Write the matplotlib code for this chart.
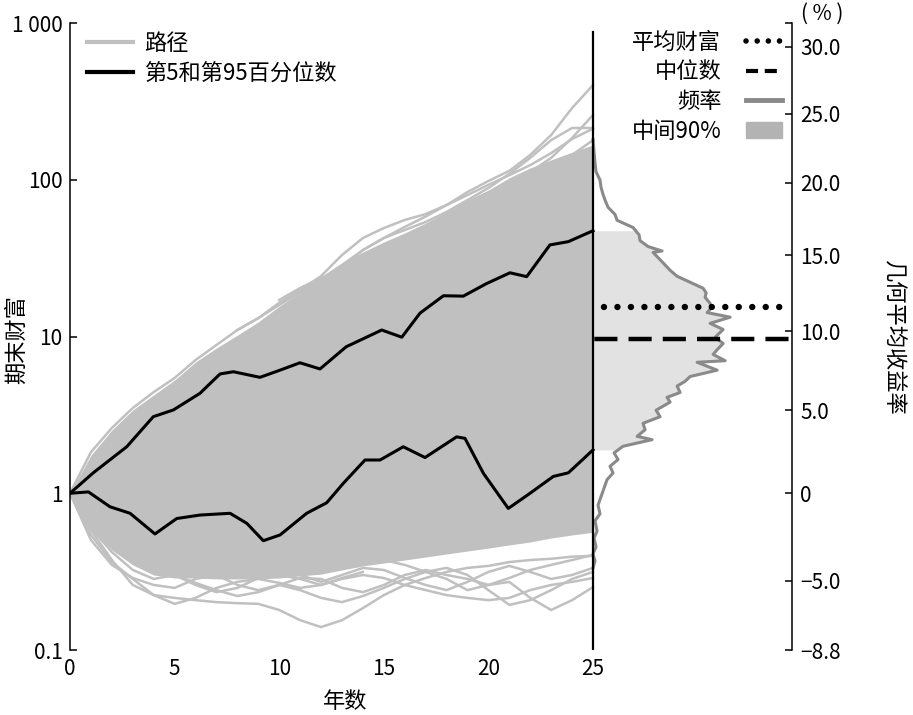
import numpy as np
import matplotlib
matplotlib.use("Agg")
import matplotlib.pyplot as plt
from matplotlib.lines import Line2D
from matplotlib.patches import Patch
from matplotlib.ticker import NullLocator

plt.rcParams['font.family'] = ['Noto Sans CJK SC', 'DejaVu Sans']
plt.rcParams['font.size'] = 15

years = np.arange(26)

# 路径主体(密集区)的上下边界, 期末财富
core_upper = [1, 1.75, 2.53, 3.40, 4.24, 5.28, 6.88, 8.45, 10.2, 12.4, 15.6, 19.2, 23.6,
              29.0, 34.6, 40.1, 45.8, 53.0, 62.3, 74.3, 86.0, 103, 119, 134, 150, 167]
core_lower = [1, 0.583, 0.435, 0.349, 0.301, 0.288, 0.288, 0.284, 0.284, 0.284, 0.288, 0.297,
              0.305, 0.324, 0.344, 0.359, 0.375, 0.392, 0.410, 0.428, 0.447, 0.468, 0.489,
              0.518, 0.542, 0.564]

# 边缘的单条路径 (起始年, 数值)
path_u1 = (0, [1, 1.83, 2.61, 3.50, 4.42, 5.44, 7.08, 8.83, 11.0, 13.1, 16.4, 19.8, 24.3, 33.1,
               42.5, 49.2, 55.4, 60.4, 69.0, 83.5, 98.2, 114, 144, 193, 287, 402])
path_u2 = (12, [22.3, 27.4, 35.6, 42.5, 47.8, 53.8, 62.3, 74.3, 88.6, 109, 138, 179, 214, 214])
path_u3 = (16, [42.5, 49.2, 57.0, 69.0, 79.9, 95.4, 112, 138, 185, 259])
path_u4 = (10, [17.1, 20.4, 23.6, 26.6, 29.9, 35.6, 41.3, 47.8, 53.8, 62.3, 74.3, 88.6, 103,
                124, 144, 179])
path_u5 = (8, [11.0, 13.1, 15.9, 19.2, 23.3, 28.6, 35.6, 42.5, 50.0, 58.3, 69.0, 79.9, 92.8,
               107, 124, 148, 182, 212])
path_l1 = (0, [1, 0.583, 0.375, 0.260, 0.224, 0.215, 0.208, 0.202, 0.199, 0.197, 0.180, 0.155,
               0.140, 0.155, 0.185, 0.224, 0.260, 0.288, 0.315, 0.334, 0.344, 0.364, 0.375,
               0.382, 0.394, 0.399])
path_l2 = (15, [0.375, 0.349, 0.315, 0.284, 0.241, 0.260, 0.272, 0.215, 0.180, 0.208, 0.252])
path_l3 = (10, [0.301, 0.284, 0.260, 0.284, 0.301, 0.288, 0.260, 0.241, 0.224, 0.215, 0.208,
                0.215, 0.241, 0.260, 0.272, 0.288])
path_l4 = (0, [1, 0.542, 0.364, 0.284, 0.224, 0.197, 0.215, 0.249, 0.272, 0.284, 0.268, 0.249,
               0.260, 0.288, 0.315])
path_l5 = (0, [1, 0.503, 0.349, 0.288, 0.260, 0.249, 0.284, 0.301, 0.260, 0.241, 0.260, 0.288,
               0.284, 0.249, 0.234, 0.260, 0.301, 0.324, 0.301, 0.284, 0.260, 0.288, 0.324,
               0.349, 0.375, 0.404])
path_l6 = (0, [1, 0.600, 0.422, 0.324, 0.284, 0.301, 0.260, 0.234, 0.249, 0.288, 0.315, 0.301,
               0.272, 0.301, 0.334, 0.324, 0.288, 0.260, 0.241, 0.272, 0.315, 0.344, 0.315,
               0.284, 0.301, 0.334])
path_l7 = (5, [0.301, 0.268, 0.241, 0.221, 0.234, 0.260, 0.241, 0.215, 0.202, 0.221, 0.249,
               0.284, 0.315, 0.334, 0.301, 0.241, 0.194, 0.208, 0.241, 0.284, 0.315])
edge_paths = [path_u1, path_u2, path_u3, path_u4, path_u5,
              path_l1, path_l2, path_l3, path_l4, path_l5, path_l6, path_l7]

# 第95百分位数
p95_t = [0, 1.11, 2.71, 3.98, 4.94, 6.21, 7.17, 7.81, 9.08, 10.04, 10.99, 11.95, 13.2, 14.9,
         15.86, 16.73, 17.85, 18.8, 19.92, 21.03, 21.83, 22.94, 23.82, 25]
p95_w = [1, 1.35, 1.98, 3.08, 3.40, 4.34, 5.77, 5.96, 5.49, 6.1, 6.80, 6.21, 8.6, 11.0,
         9.9, 14.1, 18.2, 18.1, 21.8, 25.5, 24.1, 38.4, 40.3, 47.3]
# 第5百分位数
p5_t = [0, 0.88, 1.91, 2.87, 4.06, 5.1, 6.21, 7.65, 8.45, 9.24, 10.04, 11.31, 12.27, 13.07,
        14.1, 14.82, 15.93, 16.97, 18.48, 18.88, 19.76, 20.95, 21.99, 23.1, 23.82, 25]
p5_w = [1, 1.02, 0.82, 0.745, 0.55, 0.69, 0.726, 0.745, 0.643, 0.498, 0.542, 0.745, 0.87,
        1.16, 1.63, 1.63, 1.98, 1.69, 2.29, 2.24, 1.34, 0.80, 1.0, 1.28, 1.35, 1.89]

# 几何平均收益率(%)的频率分布
rate = np.array([-4.3, -3.9, -3.5, -3.1, -2.6, -2.2, -1.6, -1.2, -0.7, -0.2,
                 0.3, 0.8, 1.2, 1.6, 2.0, 2.4, 2.8, 3.2, 3.4, 3.8,
                 4.2, 4.6, 5.0, 5.5, 5.8, 6.1, 6.5, 6.8, 7.1, 7.5,
                 8.0, 8.1, 8.5, 8.8, 9.2, 9.6, 10.1, 10.5, 10.9, 11.2,
                 11.5, 11.8, 12.2, 12.5, 12.8, 13.2, 13.6, 14.0, 14.5, 15.2,
                 15.3, 15.6, 16.0, 16.4, 16.9, 17.4, 17.8, 18.3, 18.8, 19.2,
                 19.7, 20.2, 20.8, 21.4, 22.2, 23.1])
freq = np.array([0, 2, 0, 3, 1, 4, 2, 7, 5, 8,
                 11, 14, 20, 17, 25, 21, 30, 59, 44, 52,
                 50, 67, 63, 77, 74, 87, 84, 92, 97, 124,
                 104, 132, 120, 124, 130, 122, 130, 117, 137, 114,
                 118, 117, 112, 113, 110, 97, 84, 77, 70, 60,
                 69, 55, 47, 46, 40, 24, 22, 15, 12, 10,
                 8, 7, 3, 2, 1, 0])

mean_wealth = 15.5
median_wealth = 9.6

rate_ticks = [30, 25, 20, 15, 10, 5, 0, -5, -8.8]
rate_labels = ['30.0', '25.0', '20.0', '15.0', '10.0', '5.0', '0', '−5.0', '−8.8']

horizon = 25
hist_scale = 1 / 20.9
path_color = '#c0c0c0'

fig = plt.figure(figsize=(9.13, 7.15), dpi=100)
ax = fig.add_axes([0.0767, 0.0909, 0.7905, 0.8769])

# 路径
ax.fill_between(years, core_lower, core_upper, color=path_color, lw=0, zorder=1)
for start, vals in edge_paths:
    ax.plot(np.arange(start, start + len(vals)), vals, color=path_color, lw=1.8, zorder=1.5)

ax.plot(p95_t, p95_w, color='black', lw=2.2, zorder=4)
ax.plot(p5_t, p5_w, color='black', lw=2.2, zorder=4)

# 右侧分布
wealth_of_rate = (1 + rate / 100) ** horizon
lo = p5_w[-1] ** (1 / horizon) * 100 - 100
hi = p95_w[-1] ** (1 / horizon) * 100 - 100
m = (rate > lo) & (rate < hi)
rb = np.concatenate([[lo], rate[m], [hi]])
fb = np.concatenate([[np.interp(lo, rate, freq)], freq[m], [np.interp(hi, rate, freq)]])
ax.fill_betweenx((1 + rb / 100) ** horizon, horizon, horizon + fb * hist_scale,
                 color='#e2e2e2', lw=0, zorder=1)
ax.plot(horizon + freq * hist_scale, wealth_of_rate, color='#8a8a8a', lw=2.2, zorder=3)

ax.plot([horizon, 34.5], [mean_wealth] * 2, color='black', lw=4.6,
        linestyle=(0.4, (0.01, 2.1)), dash_capstyle='round', zorder=5)
ax.plot([horizon, 34.5], [median_wealth] * 2, color='black', lw=3.2,
        linestyle=(-0.3, (5.2, 2.5)), zorder=5)

ax.plot([horizon, horizon], [0.1, 880], color='black', lw=1.6, zorder=6)

ax.set_yscale('log')
ax.set_ylim(0.1, 1000)
ax.set_xlim(0, 34.5)
ax.set_yticks([0.1, 1, 10, 100, 1000], ['0.1', '1', '10', '100', '1 000'])
ax.yaxis.set_minor_locator(NullLocator())
ax.set_xticks([0, 5, 10, 15, 20, 25])
ax.tick_params(axis='y', direction='in', length=5, width=1.1, pad=5.5, labelsize=15)
ax.tick_params(axis='x', length=0, pad=5.5, labelsize=15)
for s in ['top', 'right', 'bottom']:
    ax.spines[s].set_visible(False)
ax.spines['left'].set_linewidth(1.1)

ax2 = ax.twinx()
ax2.set_yscale('log')
ax2.set_ylim(0.1, 1000)
ax2.set_yticks([(1 + r / 100) ** horizon for r in rate_ticks] + [1000], rate_labels + [''])
ax2.yaxis.set_minor_locator(NullLocator())
ax2.tick_params(axis='y', direction='in', length=5, width=1.1, pad=6, labelsize=15)
for s in ['top', 'left', 'bottom']:
    ax2.spines[s].set_visible(False)
ax2.spines['right'].set_linewidth(1.1)

# 图例
leg1 = ax.legend(handles=[Line2D([], [], color=path_color, lw=3),
                          Line2D([], [], color='black', lw=3)],
                 labels=['路径', '第5和第95百分位数'], loc='upper left',
                 bbox_to_anchor=(0.095, 0.955), bbox_transform=fig.transFigure,
                 frameon=False, fontsize=16, handlelength=2.1, handletextpad=0.5,
                 labelspacing=0.3, borderpad=0, borderaxespad=0)
leg2 = ax2.legend(handles=[Line2D([], [], color='black', lw=4, linestyle=(0, (0.01, 2.0)),
                                  dash_capstyle='round'),
                           Line2D([], [], color='black', lw=3, linestyle=(0, (2.9, 1.6))),
                           Line2D([], [], color='#8a8a8a', lw=3.5),
                           Patch(color='#b3b3b3')],
                  labels=['平均财富', '中位数', '频率', '中间90%'], loc='upper right',
                  bbox_to_anchor=(0.857, 0.957), bbox_transform=fig.transFigure,
                  markerfirst=False, frameon=False, fontsize=16, handlelength=1.65,
                  handletextpad=1.1, labelspacing=0.3, borderpad=0, borderaxespad=0)

fig.text(16 / 913, 1 - 340 / 715, '期末财富', rotation=90, ha='center', va='center', fontsize=16)
fig.text(345 / 913, 1 - 702 / 715, '年数', ha='center', va='center', fontsize=16)
fig.text(893 / 913, 1 - 337 / 715, '几何平均收益率', rotation=-90, ha='center', va='center',
         fontsize=16)
fig.text(822 / 913, 1 - 14 / 715, '( % )', ha='center', va='center', fontsize=15)

fig.savefig('out.png', dpi=100)
